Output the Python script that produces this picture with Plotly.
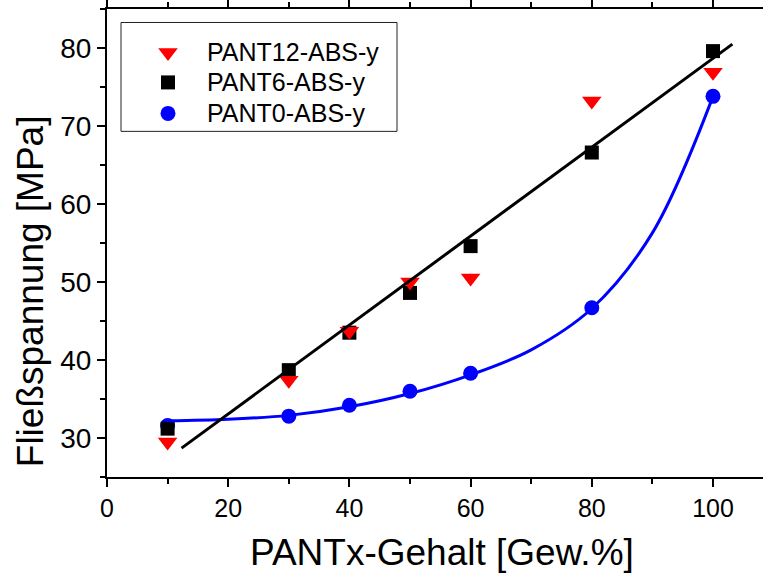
import plotly.graph_objects as go

# ---- data ----
x_vals = [10, 30, 40, 50, 60, 80, 100]
pant12 = [29.5, 37.4, 43.7, 50.0, 50.5, 73.2, 76.9]
pant6 = [31.2, 38.7, 43.5, 48.6, 54.6, 66.6, 79.6]
pant0 = [31.6, 32.8, 34.2, 36.0, 38.3, 46.7, 73.8]

lin_fit_x = [12.3, 103.2]
lin_fit_y = [28.7, 80.5]

exp_fit_x = [10, 20, 30, 40, 50, 60, 70, 80, 90, 100]
exp_fit_y = [32.2, 32.4, 32.9, 34.0, 35.7, 38.1, 41.3, 46.6, 56.3, 73.8]

x_ticks = [0, 20, 40, 60, 80, 100]
y_ticks = [30, 40, 50, 60, 70, 80]

names = ["PANT12-ABS-y", "PANT6-ABS-y", "PANT0-ABS-y"]
symbols = ["triangle-down", "square", "circle"]
colors = ["#ff0000", "#000000", "#0000ff"]
sizes = [17, 14, 15]

FONT = "Liberation Sans, Arial, sans-serif"

L, T, B = 107, 8.5, 98
W, H = 763, 575
pw = W - L
ph = H - T - B

def px_x(p):
    return (p - L) / pw

def px_y(p):
    return (H - B - p) / ph

fig = go.Figure()
# draw order: circles, squares, triangles, then fit lines
for i in [2, 1, 0]:
    yv = [pant12, pant6, pant0][i]
    fig.add_trace(go.Scatter(x=x_vals, y=yv, mode="markers", name=names[i], showlegend=False,
                             marker=dict(symbol=symbols[i], size=sizes[i], color=colors[i])))
fig.add_trace(go.Scatter(x=exp_fit_x, y=exp_fit_y, mode="lines", showlegend=False,
                         line=dict(color="#0000ff", width=3, shape="spline", smoothing=1.0)))
fig.add_trace(go.Scatter(x=lin_fit_x, y=lin_fit_y, mode="lines", showlegend=False,
                         line=dict(color="#000000", width=3)))

# legend drawn on an overlay axis in paper-like units
leg_rows = [52, 82, 113]
leg_mx = 168
leg_tx = 205
for i in range(3):
    fig.add_trace(go.Scatter(x=[px_x(leg_mx)], y=[px_y(leg_rows[i])], mode="markers",
                             xaxis="x2", yaxis="y2", showlegend=False, hoverinfo="skip",
                             marker=dict(symbol=symbols[i], size=sizes[i], color=colors[i])))

axis_common = dict(showline=True, linecolor="black", linewidth=2, ticks="outside",
                   ticklen=8, tickwidth=2, tickcolor="black", showgrid=False,
                   zeroline=False)

fig.update_layout(
    xaxis=dict(range=[0, pw / 6.06], tickvals=x_ticks, mirror="ticks",
               tickfont=dict(family=FONT, size=25, color="black"),
               minor=dict(ticks="outside", ticklen=5, tickwidth=2, tickcolor="black",
                          dtick=10, tick0=0, showgrid=False),
               **axis_common),
    yaxis=dict(range=[25, 85], tickvals=y_ticks, mirror=False,
               tickfont=dict(family=FONT, size=28, color="black"),
               minor=dict(ticks="outside", ticklen=5, tickwidth=2, tickcolor="black",
                          dtick=5, tick0=25, showgrid=False),
               **axis_common),
    xaxis2=dict(overlaying="x", range=[0, 1], visible=False),
    yaxis2=dict(overlaying="y", range=[0, 1], visible=False),
    width=W, height=H,
    margin=dict(l=L, r=0, t=T, b=B, pad=0),
    paper_bgcolor="white", plot_bgcolor="white",
    font=dict(family=FONT, color="black"),
    showlegend=False,
    shapes=[dict(type="rect", xref="paper", yref="paper",
                 x0=px_x(121), x1=px_x(397), y0=px_y(131), y1=px_y(22),
                 line=dict(color="#222222", width=1), fillcolor="rgba(0,0,0,0)")],
    annotations=[
        dict(text="PANTx-Gehalt [Gew.%]", xref="paper", yref="paper",
             x=px_x(442), y=px_y(553), xanchor="center", yanchor="middle",
             showarrow=False, font=dict(family=FONT, size=37, color="black")),
        dict(text="Fließspannung [MPa]", xref="paper", yref="paper",
             x=px_x(30), y=px_y(291), xanchor="center", yanchor="middle",
             textangle=-90, showarrow=False,
             font=dict(family=FONT, size=37, color="black")),
    ] + [
        dict(text=names[i], xref="paper", yref="paper", x=px_x(leg_tx), y=px_y(leg_rows[i]),
             xanchor="left", yanchor="middle", showarrow=False,
             font=dict(family=FONT, size=25, color="black"))
        for i in range(3)
    ],
)

fig.write_html("out.html")
